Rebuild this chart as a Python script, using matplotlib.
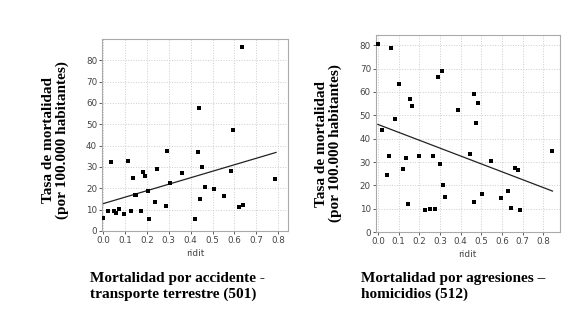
import numpy as np
import matplotlib
matplotlib.use("Agg")
import matplotlib.pyplot as plt

# accidentes de transporte terrestre (501)
ridit_501 = [0.0, 0.02, 0.038, 0.049, 0.058, 0.073, 0.095, 0.113, 0.125, 0.136,
             0.145, 0.152, 0.183, 0.192, 0.171, 0.203, 0.21, 0.236, 0.248, 0.29,
             0.285, 0.305, 0.36, 0.419, 0.433, 0.436, 0.442, 0.453, 0.465, 0.508,
             0.553, 0.582, 0.595, 0.62, 0.637, 0.633, 0.785]
tasa_501 = [6.2, 9.4, 32.4, 9.4, 8.3, 10.1, 7.8, 32.9, 9.4, 25.0,
            17.0, 17.0, 27.5, 25.9, 9.4, 18.7, 5.8, 13.4, 29.0, 37.4,
            11.5, 22.6, 27.1, 5.8, 36.8, 57.6, 14.8, 29.8, 20.6, 19.5,
            16.2, 28.2, 47.1, 11.2, 12.2, 86.0, 24.5]
trend_x_501 = [0.0, 0.79]
trend_y_501 = [12.8, 36.8]

# agresiones - homicidios (512)
ridit_512 = [0.0, 0.019, 0.064, 0.043, 0.055, 0.082, 0.103, 0.121, 0.134, 0.145,
             0.153, 0.166, 0.2, 0.227, 0.25, 0.267, 0.275, 0.29, 0.301, 0.309,
             0.314, 0.327, 0.388, 0.448, 0.464, 0.467, 0.475, 0.486, 0.502, 0.547,
             0.596, 0.628, 0.643, 0.665, 0.68, 0.688, 0.845]
tasa_512 = [80.3, 43.9, 78.6, 24.6, 32.6, 48.3, 63.3, 27.1, 31.9, 12.1,
            56.9, 53.9, 32.6, 9.6, 9.9, 32.6, 9.9, 66.3, 29.0, 69.1,
            20.0, 15.1, 52.4, 33.4, 13.0, 58.9, 46.9, 55.4, 16.4, 30.4,
            14.6, 17.7, 10.3, 27.6, 26.7, 9.6, 34.6]
trend_x_512 = [0.0, 0.845]
trend_y_512 = [46.1, 17.6]

xticks = [0.0, 0.1, 0.2, 0.3, 0.4, 0.5, 0.6, 0.7, 0.8]
xtick_labels = ["0.0", "0.1", "0.2", "0.3", "0.4", "0.5", "0.6", "0.7", "0.8"]
yticks = [0, 10, 20, 30, 40, 50, 60, 70, 80]

ylabel = "Tasa de mortalidad\n(por 100.000 habitantes)"
caption_501 = "Mortalidad por accidente -\ntransporte terrestre (501)"
caption_512 = "Mortalidad por agresiones \u2013\nhomicidios (512)"

fig = plt.figure(figsize=(5.8, 3.19), dpi=100)
fig.patch.set_facecolor("white")

def draw_panel(rect, x, y, tx, ty, xlim, ylim):
    ax = fig.add_axes(rect)
    ax.scatter(x, y, marker="s", s=9, color="black", zorder=3, linewidths=0)
    ax.plot(tx, ty, color="#222222", lw=0.9, zorder=2)
    ax.set_xlim(*xlim)
    ax.set_ylim(*ylim)
    ax.set_xticks(xticks)
    ax.set_xticklabels(xtick_labels)
    ax.set_yticks(yticks)
    ax.grid(True, color="#cccccc", linestyle=":", linewidth=0.7)
    ax.set_axisbelow(True)
    for s in ax.spines.values():
        s.set_color("#aaaaaa")
        s.set_linewidth(0.8)
    ax.tick_params(labelsize=6.3, colors="#444444", length=2, width=0.6, pad=1.5)
    ax.set_xlabel("ridit", fontsize=6.5, color="#444444", labelpad=3)
    return ax

ax1 = draw_panel([0.176, 0.276, 0.321, 0.602], ridit_501, tasa_501,
                 trend_x_501, trend_y_501, (-0.005, 0.846), (0, 90))
ax2 = draw_panel([0.648, 0.272, 0.317, 0.618], ridit_512, tasa_512,
                 trend_x_512, trend_y_512, (-0.01, 0.88), (0, 84.3))

serif = {"family": "Liberation Serif", "weight": "bold", "size": 11}
fig.text(0.095, 0.56, ylabel, rotation=90, ha="center", va="center",
         linespacing=1.05, fontdict=serif)
fig.text(0.567, 0.55, ylabel, rotation=90, ha="center", va="center",
         linespacing=1.05, fontdict=serif)

cap = {"family": "Liberation Serif", "weight": "bold", "size": 11}
fig.text(0.155, 0.102, caption_501, ha="left", va="center",
         linespacing=1.3, fontdict=cap)
fig.text(0.622, 0.102, caption_512, ha="left", va="center",
         linespacing=1.3, fontdict=cap)

fig.savefig("out.png", dpi=100, facecolor="white")
